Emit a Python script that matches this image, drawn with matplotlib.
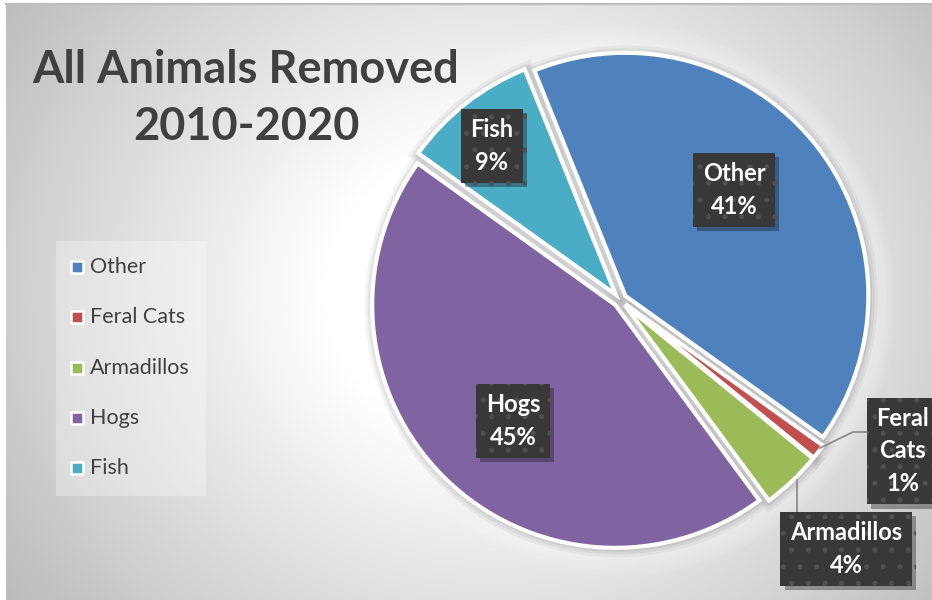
import numpy as np
import matplotlib
matplotlib.use("Agg")
import matplotlib.pyplot as plt
from matplotlib.patches import Rectangle
import matplotlib.patheffects as pe

categories = ["Other", "Feral Cats", "Armadillos", "Hogs", "Fish"]
values = [41, 1, 4, 45, 9]
colors = ["#4F81BD", "#C0504D", "#9BBB59", "#8064A2", "#4BACC6"]
title_lines = ["All Animals Removed", "2010-2020"]

W, H = 932, 600
fig = plt.figure(figsize=(W / 100, H / 100), dpi=100)
fig.patch.set_facecolor("white")
ax = fig.add_axes([0, 0, 1, 1])
ax.set_xlim(0, W)
ax.set_ylim(0, H)
ax.axis("off")

def py(y):
    return H - y

# background gradient
yy, xx = np.mgrid[0:H, 0:W]
d = np.hypot((xx - 490) * 1.0, (yy - 290) * 1.15)
v = 1.0 - 0.25 * np.clip((d - 170) / 410, 0, 1.2)
img = np.dstack([v, v, v])
ax.imshow(img, extent=(6, W, py(H), py(4)), origin="upper", zorder=0, aspect="auto")
ax.plot([6, W], [py(3.5), py(3.5)], color="#bdbdbd", lw=1.6, zorder=1)

cx, cy, R = 620, py(300), 243
startangle = 112
expl = [0.028 * R] * len(values)   # pie() explode is in data units

# soft halo
for k in range(8):
    c = plt.Circle((cx, cy), R + 12 + k * 3, color="white", alpha=0.07, lw=0, zorder=1)
    ax.add_patch(c)

# soft shadow layers around every wedge
for lw, a in [(12, 0.10), (8, 0.14), (4, 0.2)]:
    ws, _ = ax.pie(values, colors=["#8a8a8a"] * 5, startangle=startangle, counterclock=False,
                   radius=R, center=(cx + 1, cy - 1), explode=expl, frame=True,
                   wedgeprops=dict(linewidth=lw, edgecolor="#8a8a8a", alpha=a))
    for w in ws:
        w.set_zorder(2)

wedges, _ = ax.pie(values, colors=colors, startangle=startangle, counterclock=False,
                   radius=R, center=(cx, cy), explode=expl, frame=True,
                   wedgeprops=dict(edgecolor="white", linewidth=3))
for w in wedges:
    w.set_zorder(3)

ax.set_xlim(0, W)
ax.set_ylim(0, H)
ax.set_aspect("auto")
ax.axis("off")

total = sum(values)
FONT = ["Lato", "DejaVu Sans"]
plt.rcParams["hatch.linewidth"] = 1.2

label_pos = {
    "Other": (734, 190),
    "Feral Cats": (903, 451),
    "Armadillos": (846, 549),
    "Hogs": (513, 421),
    "Fish": (492, 146),
}
for cat, val in zip(categories, values):
    txt = cat.replace(" ", "\n") + "\n" + f"{val / total * 100:.0f}%"
    x, y = label_pos[cat]
    t = ax.text(x, py(y), txt, ha="center", va="center", color="white", fontsize=17,
                fontweight="bold", family=FONT, linespacing=1.5, zorder=6,
                bbox=dict(boxstyle="square,pad=0.4", fc="#383838", ec="#505050",
                          lw=0, hatch="."))
    t.get_bbox_patch().set_path_effects([pe.SimplePatchShadow(offset=(3, -3), alpha=0.35),
                                         pe.Normal()])

# leader lines
ax.plot([820, 853, 866], [py(448), py(432), py(432)], color="#8c8c8c", lw=1.3, zorder=4)
ax.plot([797, 797], [py(480), py(513)], color="#8c8c8c", lw=1.3, zorder=4)

# title
ax.text(246, py(83), title_lines[0], ha="center", va="baseline", fontsize=32.5,
        fontweight="bold", color="#404040", family=FONT, zorder=5)
ax.text(246, py(140), title_lines[1], ha="center", va="baseline", fontsize=32.5,
        fontweight="bold", color="#404040", family=FONT, zorder=5)

# legend
ax.add_patch(Rectangle((56, py(496)), 150, 255, fc="white", alpha=0.3, lw=0, zorder=4))
leg_y = [267 + i * 50.3 for i in range(len(categories))]
ax.scatter([77] * len(categories), [py(y) for y in leg_y], marker="s", s=75, c=colors,
           edgecolors="white", linewidths=1.8, zorder=5)
for cat, y in zip(categories, leg_y):
    ax.text(90, py(y), cat, ha="left", va="center", fontsize=15.5, color="#404040",
            family=FONT, zorder=5)

fig.savefig("out.png", dpi=100)
